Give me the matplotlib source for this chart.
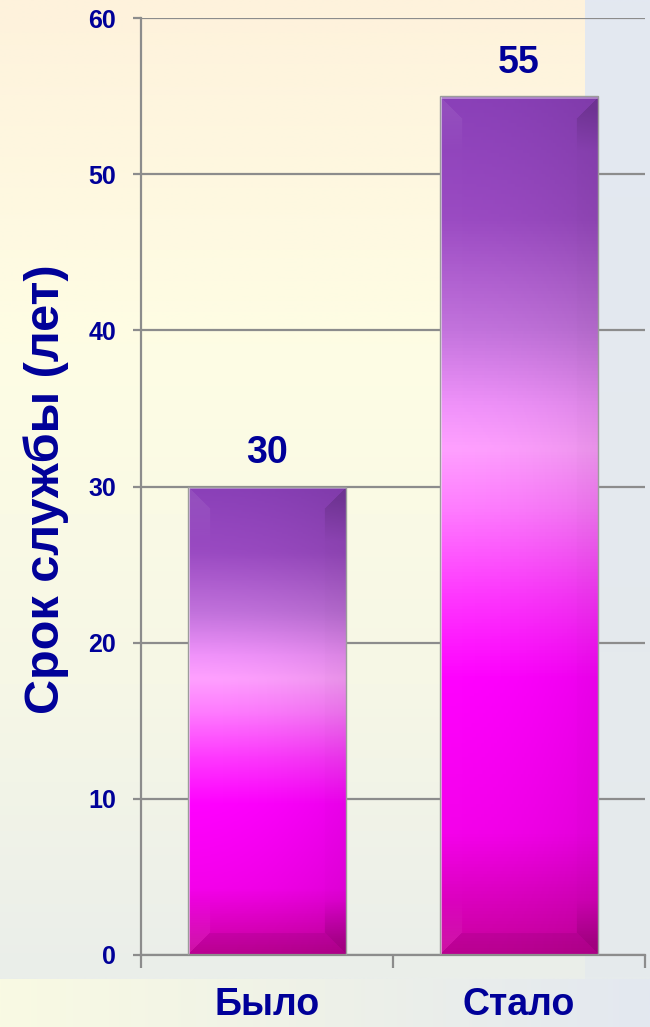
import numpy as np
import matplotlib
matplotlib.use("Agg")
import matplotlib.pyplot as plt
from matplotlib.colors import LinearSegmentedColormap

plt.rcParams["font.family"] = ["Liberation Sans", "DejaVu Sans"]

# chart data
categories = ["Было", "Стало"]
values = [30, 55]
y_ticks = [0, 10, 20, 30, 40, 50, 60]
y_title = "Срок службы (лет)"

TEXT = "#000099"
GRID = "#8C8C8C"

W, H = 650, 1027
fig = plt.figure(figsize=(W / 100, H / 100), dpi=100)

# slide background: horizontal wash, chart area panel with vertical wash
bg = fig.add_axes([0, 0, 1, 1], zorder=-5)
bg.set_xlim(0, 1)
bg.set_ylim(0, 1)
bg.axis("off")
slide = LinearSegmentedColormap.from_list("slide", ["#F9FAE3", "#EEF1E8", "#E3E8F0"])
bg.imshow(slide(np.linspace(0, 1, 256))[None, :, :3], extent=(0, 1, 0, 1),
          aspect="auto", interpolation="bilinear")
panel = LinearSegmentedColormap.from_list(
    "panel", [(0, "#FEF2DC"), (0.35, "#FEFDE4"), (0.7, "#F6F7E6"), (1, "#EAEEEA")])
bg.imshow(panel(np.linspace(0, 1, 256))[:, None, :3],
          extent=(0, 585 / W, 1 - 979 / H, 1), aspect="auto", interpolation="bilinear")
right_strip = LinearSegmentedColormap.from_list("strip", ["#E3E8F1", "#E6EBEC"])
bg.imshow(right_strip(np.linspace(0, 1, 256))[:, None, :3],
          extent=(585 / W, 1, 1 - 979 / H, 1), aspect="auto", interpolation="bilinear")

ax = fig.add_axes([141 / W, 72 / H, 504 / W, 937 / H])
ax.set_facecolor("none")

# glossy purple -> pink -> magenta fill for the bars
bar_cmap = LinearSegmentedColormap.from_list("bar", [
    (0.00, "#8A40B8"), (0.14, "#9A4AC2"), (0.27, "#C272DC"), (0.36, "#F092FA"),
    (0.41, "#FFA0FF"), (0.48, "#FF7CFF"), (0.58, "#FF38FF"), (0.68, "#FF00FF"),
    (0.86, "#F400EA"), (1.00, "#C8009C")])


def bar_image(h_px, w_px, bevel=22):
    t = np.linspace(0, 1, h_px)
    img = np.repeat(bar_cmap(t)[:, None, :3], w_px, axis=1)
    img = img * (1.0 - 0.08 * np.linspace(0, 1, w_px) ** 2)[None, :, None]
    yy, xx = np.mgrid[0:h_px, 0:w_px]
    dist = np.stack([yy, h_px - 1 - yy, xx, w_px - 1 - xx])
    nearest = dist.argmin(0)
    dmin = dist.min(0)
    # bevel faces: strong near the corners, fading out along the long sides
    fade = np.ones_like(dmin, dtype=float)
    side = nearest >= 2
    corner_d = np.minimum(yy, h_px - 1 - yy)
    fade[side] = np.clip(1.3 - corner_d[side] / 45.0, 0.08, 1.0)
    shade = np.array([0.0, -0.07, 0.07, -0.14])[nearest] * (dmin < bevel) * fade
    shade = shade[:, :, None]
    img = np.where(shade > 0, img + (1 - img) * shade, img * (1 + shade))
    # bright rim along the top and left edges
    img[:3] = img[:3] + (1 - img[:3]) * 0.35
    img[:, :2] = img[:, :2] + (1 - img[:, :2]) * 0.55
    return np.clip(img, 0, 1)


bar_width = 0.627
x = np.arange(len(categories))
bars = ax.bar(x, values, bar_width, facecolor="none", edgecolor="#9C9C9C",
              linewidth=1.0, zorder=3)

px_per_x = 504 / 2.0
px_per_y = 937 / 60.0
for bar, v in zip(bars, values):
    x0 = bar.get_x()
    img = bar_image(int(round(v * px_per_y)), int(round(bar_width * px_per_x)))
    im = ax.imshow(img, extent=(x0, x0 + bar_width, 0, v), aspect="auto",
                   interpolation="bilinear", zorder=2)
    im.set_clip_path(bar)
    ax.annotate(f"{v}", xy=(x0 + bar_width / 2, v), xytext=(0, 11),
                textcoords="offset points", ha="center", va="bottom",
                fontsize=27, fontweight="bold", color=TEXT)

ax.set_aspect("auto")
ax.set_xlim(-0.5, 1.5)
ax.set_ylim(0, 60)

# axes, ticks and grid
ax.set_yticks(y_ticks)
ax.set_yticklabels([str(t) for t in y_ticks], fontsize=18, fontweight="bold", color=TEXT)
ax.yaxis.grid(True, color=GRID, linewidth=1.6)
ax.set_axisbelow(True)
ax.tick_params(axis="y", length=6, width=1.6, color=GRID, pad=12)

ax.set_xticks(x)
ax.set_xticklabels(categories, fontsize=27, fontweight="bold", color=TEXT)
ax.set_xticks([-0.5, 0.5, 1.5], minor=True)
ax.tick_params(axis="x", which="major", length=0, pad=23)
ax.tick_params(axis="x", which="minor", length=9, width=1.6, color=GRID)

for side in ("top", "right"):
    ax.spines[side].set_visible(False)
for side in ("left", "bottom"):
    ax.spines[side].set_color(GRID)
    ax.spines[side].set_linewidth(1.6)

ax.set_ylabel(y_title, fontsize=35, fontweight="bold", color=TEXT)
ax.yaxis.set_label_coords(-0.143, 0.497)

fig.savefig("out.png", dpi=100)
